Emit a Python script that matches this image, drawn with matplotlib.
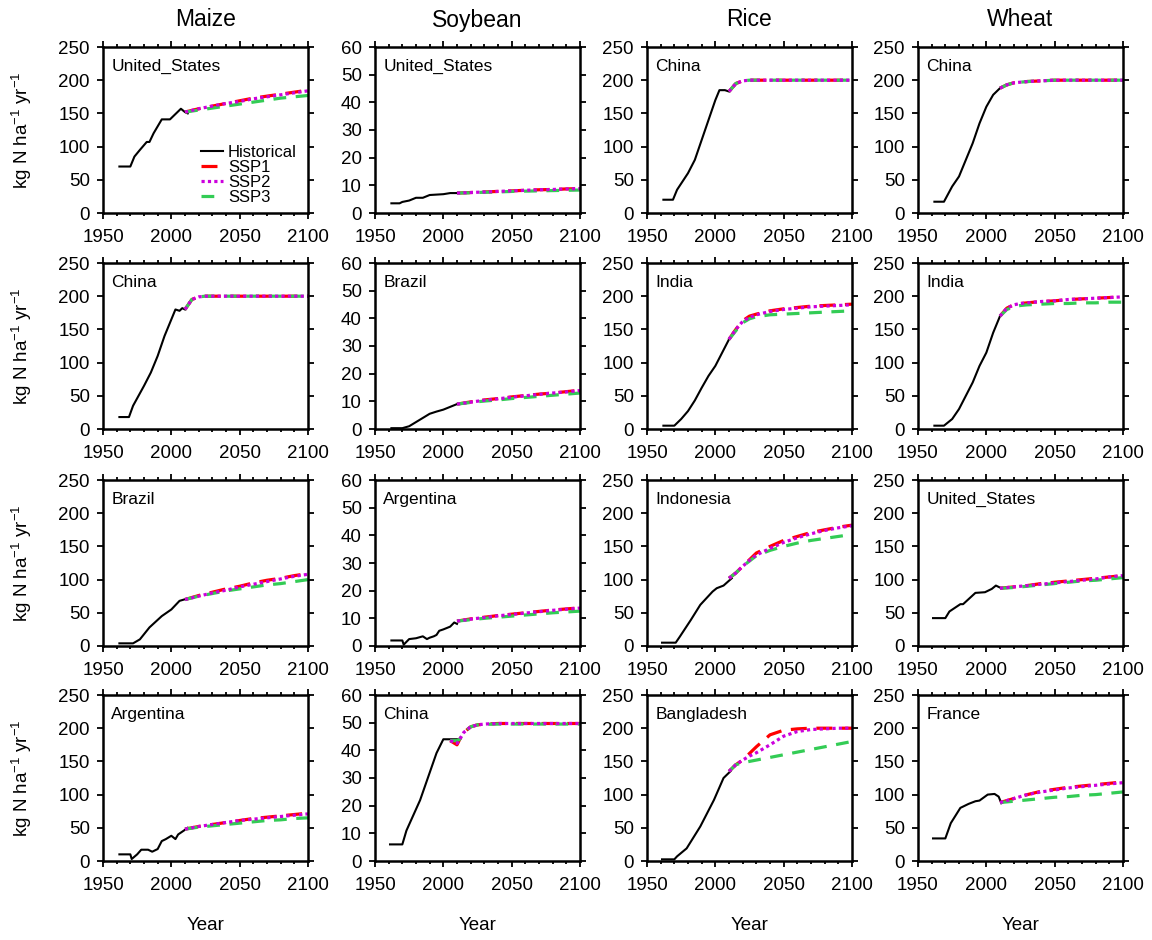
import matplotlib
matplotlib.use("Agg")
import matplotlib.pyplot as plt
from matplotlib.ticker import MultipleLocator

plt.rcParams['font.family'] = ['Liberation Sans', 'DejaVu Sans']
plt.rcParams['mathtext.default'] = 'regular'

crops = ['Maize', 'Soybean', 'Rice', 'Wheat']

# countries per panel, row by row
countries = [
    ['United_States', 'United_States', 'China', 'China'],
    ['China', 'Brazil', 'India', 'India'],
    ['Brazil', 'Argentina', 'Indonesia', 'United_States'],
    ['Argentina', 'China', 'Bangladesh', 'France'],
]
ymax = [250, 60, 250, 250]

# ---- historical series (year, value) ----
hist_years = {
    (0, 0): [1962, 1970, 1973, 1977, 1982, 1984, 1987, 1993, 1999, 2001, 2007, 2010, 2012],
    (0, 1): [1962, 1968, 1970, 1975, 1980, 1985, 1990, 2000, 2005, 2010],
    (0, 2): [1962, 1969, 1972, 1980, 1985, 1990, 1995, 2000, 2003, 2007, 2010],
    (0, 3): [1962, 1969, 1975, 1980, 1985, 1990, 1995, 2000, 2005, 2010],
    (1, 0): [1962, 1969, 1972, 1980, 1985, 1990, 1995, 2000, 2003, 2006, 2008, 2010],
    (1, 1): [1962, 1970, 1975, 1980, 1985, 1990, 1995, 2000, 2005, 2010],
    (1, 2): [1962, 1970, 1975, 1980, 1985, 1990, 1995, 2000, 2005, 2010],
    (1, 3): [1962, 1969, 1975, 1980, 1985, 1990, 1995, 2000, 2005, 2010],
    (2, 0): [1962, 1972, 1977, 1984, 1993, 2000, 2006, 2011],
    (2, 1): [1962, 1970, 1971, 1975, 1980, 1985, 1988, 1990, 1993, 1995, 1997, 2000, 2005, 2008, 2010],
    (2, 2): [1961, 1971, 1974, 1982, 1989, 1998, 2001, 2006, 2012],
    (2, 3): [1961, 1970, 1973, 1981, 1983, 1992, 1999, 2004, 2007, 2011],
    (3, 0): [1962, 1970, 1971, 1975, 1978, 1983, 1986, 1990, 1993, 1996, 2000, 2003, 2005, 2010, 2012],
    (3, 1): [1961, 1970, 1973, 1983, 1995, 2000, 2012],
    (3, 2): [1961, 1970, 1972, 1979, 1989, 1999, 2006, 2011],
    (3, 3): [1961, 1970, 1974, 1981, 1987, 1992, 1995, 2001, 2006, 2009, 2011],
}
hist_vals = {
    (0, 0): [70, 70, 85, 95, 107, 107, 120, 141, 141, 145, 157, 152, 150],
    (0, 1): [3.5, 3.5, 4.0, 4.5, 5.5, 5.5, 6.5, 6.8, 7.2, 7.2],
    (0, 2): [20, 20, 35, 60, 80, 110, 140, 170, 185, 185, 183],
    (0, 3): [17, 17, 40, 55, 80, 105, 135, 160, 178, 188],
    (1, 0): [18, 18, 35, 65, 85, 110, 140, 165, 180, 178, 182, 180],
    (1, 1): [0.3, 0.3, 1.0, 2.5, 4.0, 5.5, 6.3, 7.0, 8.0, 9.0],
    (1, 2): [5, 5, 15, 27, 43, 62, 80, 95, 115, 135],
    (1, 3): [5, 5, 15, 30, 50, 70, 95, 115, 145, 170],
    (2, 0): [4, 4, 10, 28, 45, 55, 68, 71],
    (2, 1): [2.0, 2.0, 0.5, 2.5, 2.8, 3.5, 2.5, 3.0, 3.5, 4.0, 5.5, 6.0, 7.0, 8.5, 8.0],
    (2, 2): [5, 5, 14, 39, 62, 82, 87, 91, 102],
    (2, 3): [42, 42, 52, 63, 63, 80, 81, 86, 91, 87],
    (3, 0): [10, 10, 3, 10, 17, 17, 14, 18, 30, 33, 38, 33, 40, 47, 50],
    (3, 1): [6, 6, 11, 22, 39, 44, 44],
    (3, 2): [2.5, 2.5, 7, 19, 52, 92, 125, 135],
    (3, 3): [34, 34, 57, 80, 86, 90, 91, 100, 101, 97, 87],
}

# ---- scenario series ----
ssp_years = [2010, 2020, 2030, 2040, 2050, 2060, 2070, 2080, 2090, 2100]
ssp_years_fast = [2010, 2015, 2020, 2025, 2030, 2040, 2050, 2060, 2070, 2080, 2090, 2100]
ssp_years_cn_soy = [2005, 2010, 2012, 2015, 2020, 2025, 2030, 2040, 2050, 2060, 2070, 2080, 2090, 2100]

ssp_x = {
    (0, 0): ssp_years, (0, 1): ssp_years, (0, 2): ssp_years_fast, (0, 3): ssp_years_fast,
    (1, 0): ssp_years_fast, (1, 1): ssp_years, (1, 2): ssp_years_fast, (1, 3): ssp_years_fast,
    (2, 0): ssp_years, (2, 1): ssp_years, (2, 2): ssp_years_fast, (2, 3): ssp_years,
    (3, 0): ssp_years, (3, 1): ssp_years_cn_soy, (3, 2): ssp_years_fast, (3, 3): ssp_years,
}
ssp1 = {
    (0, 0): [152, 157, 161, 165, 169, 173, 176, 179, 182, 185],
    (0, 1): [7.2, 7.4, 7.6, 7.8, 8.0, 8.2, 8.4, 8.5, 8.7, 8.8],
    (0, 2): [183, 195, 199, 200, 200, 200, 200, 200, 200, 200, 200, 200],
    (0, 3): [188, 193, 196, 197, 198, 199, 200, 200, 200, 200, 200, 200],
    (1, 0): [180, 195, 199, 200, 200, 200, 200, 200, 200, 200, 200, 200],
    (1, 1): [9.0, 9.8, 10.5, 11.0, 11.6, 12.1, 12.6, 13.0, 13.5, 14.0],
    (1, 2): [135, 150, 163, 170, 173, 178, 181, 183, 185, 186, 187, 188],
    (1, 3): [170, 182, 187, 189, 190, 192, 193, 195, 196, 197, 198, 199],
    (2, 0): [70, 76, 81, 86, 90, 95, 99, 102, 106, 109],
    (2, 1): [9.0, 9.8, 10.4, 11.0, 11.5, 12.0, 12.5, 13.0, 13.4, 13.8],
    (2, 2): [102, 110, 120, 130, 140, 150, 159, 165, 171, 175, 179, 182],
    (2, 3): [87, 89, 91, 94, 96, 98, 100, 102, 104, 106],
    (3, 0): [48, 52, 55, 58, 61, 64, 66, 68, 70, 72],
    (3, 1): [43.5, 42.0, 44.0, 46.5, 48.5, 49.2, 49.5, 49.7, 49.7, 49.7, 49.7, 49.7, 49.7, 49.7],
    (3, 2): [135, 145, 152, 162, 172, 190, 197, 199, 200, 200, 200, 200],
    (3, 3): [88, 94, 100, 105, 108, 111, 113, 115, 117, 119],
}
ssp2 = {
    (0, 0): [152, 157, 161, 165, 168, 172, 175, 178, 181, 184],
    (0, 1): [7.2, 7.4, 7.6, 7.8, 8.0, 8.2, 8.4, 8.5, 8.7, 8.8],
    (0, 2): [183, 195, 199, 200, 200, 200, 200, 200, 200, 200, 200, 200],
    (0, 3): [188, 193, 196, 197, 198, 199, 200, 200, 200, 200, 200, 200],
    (1, 0): [180, 195, 199, 200, 200, 200, 200, 200, 200, 200, 200, 200],
    (1, 1): [9.0, 9.7, 10.4, 10.9, 11.5, 12.0, 12.5, 13.0, 13.4, 13.9],
    (1, 2): [135, 150, 162, 168, 172, 177, 180, 182, 184, 185, 186, 187],
    (1, 3): [170, 182, 187, 189, 190, 192, 193, 195, 196, 197, 198, 199],
    (2, 0): [70, 75, 80, 84, 89, 93, 97, 101, 105, 108],
    (2, 1): [9.0, 9.7, 10.3, 10.9, 11.4, 11.9, 12.4, 12.9, 13.3, 13.7],
    (2, 2): [102, 110, 120, 129, 137, 147, 156, 163, 169, 174, 178, 181],
    (2, 3): [87, 89, 91, 93, 95, 97, 99, 101, 104, 106],
    (3, 0): [48, 52, 55, 58, 61, 63, 65, 67, 69, 71],
    (3, 1): [43.5, 42.5, 44.0, 46.5, 48.5, 49.2, 49.5, 49.7, 49.7, 49.7, 49.7, 49.7, 49.7, 49.7],
    (3, 2): [135, 145, 152, 158, 163, 175, 188, 195, 198, 199, 200, 200],
    (3, 3): [88, 94, 100, 104, 107, 110, 112, 114, 116, 118],
}
ssp3 = {
    (0, 0): [152, 155, 158, 161, 164, 167, 170, 173, 175, 177],
    (0, 1): [7.2, 7.3, 7.5, 7.6, 7.8, 7.9, 8.0, 8.1, 8.2, 8.3],
    (0, 2): [183, 195, 199, 200, 200, 200, 200, 200, 200, 200, 200, 200],
    (0, 3): [188, 193, 196, 197, 198, 199, 200, 200, 200, 200, 200, 200],
    (1, 0): [180, 195, 199, 200, 200, 200, 200, 200, 200, 200, 200, 200],
    (1, 1): [9.0, 9.6, 10.1, 10.5, 11.0, 11.4, 11.8, 12.2, 12.6, 13.0],
    (1, 2): [135, 148, 160, 166, 169, 172, 173, 174, 175, 176, 177, 178],
    (1, 3): [170, 180, 184, 186, 187, 188, 189, 189, 190, 190, 191, 191],
    (2, 0): [70, 75, 79, 83, 86, 89, 92, 94, 97, 100],
    (2, 1): [9.0, 9.5, 10.0, 10.4, 10.8, 11.2, 11.6, 12.0, 12.3, 12.6],
    (2, 2): [102, 110, 120, 128, 136, 144, 150, 155, 159, 162, 165, 168],
    (2, 3): [87, 88, 90, 92, 94, 96, 98, 99, 101, 103],
    (3, 0): [48, 51, 53, 55, 57, 59, 61, 62, 64, 65],
    (3, 1): [43.5, 43.5, 44.0, 46.5, 48.5, 49.2, 49.4, 49.5, 49.5, 49.5, 49.5, 49.5, 49.5, 49.5],
    (3, 2): [135, 145, 148, 150, 152, 156, 160, 164, 168, 172, 176, 180],
    (3, 3): [88, 90, 92, 94, 96, 97, 99, 100, 102, 104],
}

W, H = 1152, 940
fig = plt.figure(figsize=(W / 100, H / 100), dpi=100)

lefts = [103, 375, 647, 918]
tops = [47, 263, 480, 695]
aw, ah = 205, 166

for r in range(4):
    for c in range(4):
        ax = fig.add_axes([lefts[c] / W, 1 - (tops[r] + ah) / H, aw / W, ah / H])
        key = (r, c)
        ax.plot(ssp_x[key], ssp1[key], color='red', lw=2.3, ls=(0, (5, 3)), label='SSP1')
        ax.plot(ssp_x[key], ssp3[key], color='#33cc55', lw=2.3, ls=(0, (4, 3)), label='SSP3')
        ax.plot(ssp_x[key], ssp2[key], color='#cc00dd', lw=2.3, ls=(0, (1, 1)), label='SSP2')
        ax.plot(hist_years[key], hist_vals[key], color='black', lw=1.5, label='Historical', zorder=1.5)

        ax.set_xlim(1950, 2100)
        ax.set_ylim(0, ymax[c])
        ax.xaxis.set_major_locator(MultipleLocator(50))
        ax.xaxis.set_minor_locator(MultipleLocator(10))
        ax.yaxis.set_major_locator(MultipleLocator(50 if ymax[c] == 250 else 10))
        ax.tick_params(which='both', direction='out', top=True, right=True, width=1.3)
        ax.tick_params(which='major', length=4.5, labelsize=13.5)
        ax.tick_params(which='minor', length=2.5)
        ax.tick_params(axis='x', pad=7)
        ax.tick_params(axis='y', pad=5)
        for s in ax.spines.values():
            s.set_linewidth(1.8)

        ax.text(0.04, 0.885, countries[r][c], transform=ax.transAxes,
                fontsize=12.5, va='center', ha='left')

        if r == 0 and c == 0:
            h, l = ax.get_legend_handles_labels()
            order = [3, 0, 2, 1]
            ax.legend([h[i] for i in order], [l[i] for i in order], loc='lower left',
                      bbox_to_anchor=(0.48, 0.05), frameon=False, fontsize=12,
                      labelspacing=0.0, handlelength=1.3, handletextpad=0.3,
                      borderpad=0, borderaxespad=0)

    fig.text(22 / W, 1 - (tops[r] + ah / 2) / H, 'kg N ha$^{-1}$ yr$^{-1}$',
             rotation=90, ha='center', va='center', fontsize=13.5)

for c in range(4):
    fig.text((lefts[c] + aw / 2) / W, 1 - 20 / H, crops[c], ha='center', va='center', fontsize=16.5)
    fig.text((lefts[c] + aw / 2) / W, 1 - 925 / H, 'Year', ha='center', va='center', fontsize=13.5)

fig.savefig('out.png', dpi=100)
